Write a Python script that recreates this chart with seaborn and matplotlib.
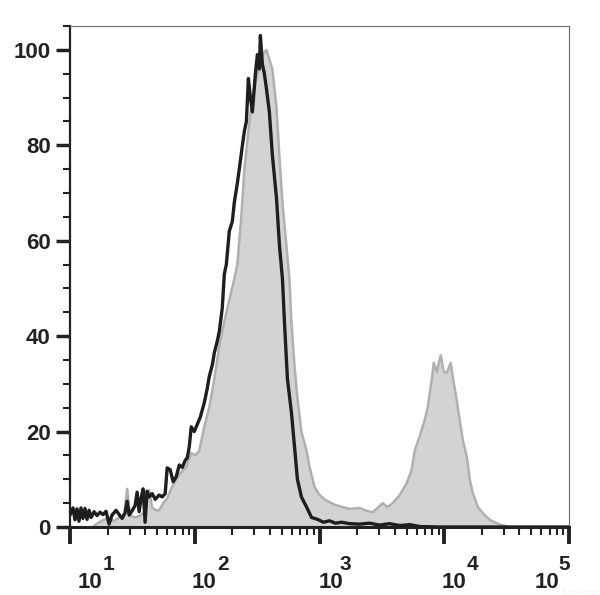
"""Flow cytometry overlay histogram: stained sample (grey fill) vs. control (black line)."""

import matplotlib

matplotlib.use("Agg")
import matplotlib.pyplot as plt  # noqa: E402
import numpy as np  # noqa: E402
import pandas as pd  # noqa: E402
import seaborn as sns  # noqa: E402
from matplotlib.ticker import FixedLocator, LogLocator, MultipleLocator, NullFormatter  # noqa: E402

# ---------------------------------------------------------------------------
# Data (log10 of fluorescence, % of max)
# ---------------------------------------------------------------------------

control_log = [
    1.000, 1.024, 1.040, 1.056, 1.072, 1.088, 1.104, 1.120, 1.137, 1.153,
    1.169, 1.193, 1.217, 1.241, 1.265, 1.289, 1.313, 1.337, 1.369, 1.394,
    1.418, 1.442, 1.458, 1.474, 1.498, 1.522, 1.538, 1.554, 1.570, 1.586,
    1.602, 1.618, 1.635, 1.659, 1.683, 1.715, 1.739, 1.763, 1.779, 1.803,
    1.827, 1.851, 1.876, 1.900, 1.924, 1.940, 1.956, 1.972, 1.996, 2.020,
    2.044, 2.076, 2.100, 2.116, 2.141, 2.157, 2.181, 2.197, 2.221, 2.237,
    2.253, 2.277, 2.301, 2.317, 2.341, 2.357, 2.382, 2.398, 2.414, 2.430,
    2.446, 2.462, 2.486, 2.502, 2.518, 2.526, 2.542, 2.558, 2.574, 2.598,
    2.622, 2.655, 2.679, 2.703, 2.719, 2.743, 2.775, 2.799, 2.823, 2.855,
    2.896, 2.936, 2.984, 3.032, 3.080, 3.128, 3.177, 3.241, 3.321, 3.402,
    3.482, 3.562, 3.643, 3.723, 3.803, 3.964, 5.000,
]
control_pct = [
    2.5, 4.0, 1.5, 3.8, 1.2, 4.0, 1.8, 3.9, 1.6, 3.5,
    2.0, 3.2, 2.4, 3.1, 2.6, 3.3, 0.6, 2.5, 3.5, 2.6,
    1.8, 3.0, 5.4, 2.5, 3.4, 4.5, 7.3, 3.2, 6.0, 8.0,
    1.0, 7.5, 6.3, 7.0, 5.8, 6.7, 6.3, 7.0, 12.4, 12.0,
    9.5, 10.5, 13.0, 12.5, 14.0, 14.5, 16.8, 21.0, 20.0, 21.5,
    23.0, 26.0, 29.0, 31.5, 34.0, 36.5, 39.0, 41.0, 46.0, 53.0,
    55.0, 62.0, 64.0, 68.0, 72.0, 75.0, 80.0, 83.0, 85.0, 94.0,
    90.0, 87.0, 95.0, 99.0, 96.0, 103.0, 97.0, 95.0, 92.0, 87.0,
    78.0, 69.0, 59.0, 52.0, 43.0, 31.0, 24.0, 17.0, 10.0, 6.3,
    4.2, 2.0, 1.6, 1.0, 1.3, 0.8, 1.0, 0.7, 0.6, 0.8,
    0.4, 0.7, 0.3, 0.5, 0.1, 0.0, 0.0,
]

sample_log = [
    1.193, 1.233, 1.273, 1.313, 1.353, 1.394, 1.434, 1.458, 1.482, 1.514,
    1.554, 1.594, 1.635, 1.659, 1.691, 1.715, 1.747, 1.779, 1.811, 1.851,
    1.876, 1.908, 1.932, 1.972, 2.004, 2.036, 2.076, 2.116, 2.157, 2.197,
    2.237, 2.277, 2.317, 2.341, 2.373, 2.398, 2.430, 2.462, 2.502, 2.542,
    2.574, 2.598, 2.622, 2.655, 2.679, 2.703, 2.735, 2.759, 2.775, 2.799,
    2.823, 2.855, 2.896, 2.920, 2.960, 3.000, 3.040, 3.080, 3.128, 3.185,
    3.241, 3.321, 3.378, 3.426, 3.466, 3.506, 3.546, 3.586, 3.643, 3.699,
    3.739, 3.763, 3.803, 3.843, 3.867, 3.900, 3.916, 3.940, 3.972, 3.996,
    4.020, 4.052, 4.068, 4.100, 4.124, 4.149, 4.181, 4.205, 4.229, 4.269,
    4.309, 4.365, 4.446, 4.526,
]
sample_pct = [
    0.3, 1.0, 1.5, 1.9, 1.2, 2.0, 2.5, 8.0, 2.5, 2.0,
    2.3, 3.0, 7.7, 4.0, 3.5, 3.5, 5.0, 6.0, 8.0, 10.0,
    11.0, 12.0, 12.6, 15.5, 15.0, 16.0, 21.0, 25.0, 31.0, 38.0,
    43.0, 47.6, 52.0, 55.0, 65.0, 75.0, 83.0, 90.0, 95.0, 99.0,
    100.0, 98.0, 96.0, 88.0, 77.5, 68.0, 59.0, 52.0, 43.0, 34.0,
    27.0, 20.0, 16.0, 12.6, 8.4, 6.7, 5.8, 5.2, 4.6, 4.2,
    3.8, 4.0, 3.4, 3.1, 4.0, 5.0, 4.2, 5.0, 6.7, 9.2,
    12.0, 16.0, 19.0, 22.4, 25.0, 31.0, 34.4, 32.5, 36.0, 32.5,
    32.3, 34.4, 31.5, 26.6, 22.4, 18.2, 14.7, 9.9, 7.1, 4.2,
    2.9, 1.5, 0.5, 0.0,
]

decades = [1, 2, 3, 4, 5]
# label nudges in pixels (base "10" centre, exponent left edge), as drawn in the original
base_dx = [20, 9, 11, 10, -22]
exp_dx = [33, 23, 20, 22, -11]
y_major = [0, 20, 40, 60, 80, 100]

# ---------------------------------------------------------------------------
# Plot
# ---------------------------------------------------------------------------

sns.set_style("ticks")
plt.rcParams["font.family"] = ["Liberation Sans", "DejaVu Sans"]

ctrl = pd.DataFrame({"fl": np.power(10.0, control_log), "pct": control_pct})
samp = pd.DataFrame({"fl": np.power(10.0, sample_log), "pct": sample_pct})

fig = plt.figure(figsize=(6.0, 5.95), dpi=100)
ax = fig.add_axes([70 / 600, 68 / 595, 499 / 600, 501 / 595])

ax.fill_between(samp["fl"], 0, samp["pct"], color="#d3d3d3", lw=0, zorder=1)
sns.lineplot(data=samp, x="fl", y="pct", ax=ax, color="#b0b0b0", lw=1.8,
             estimator=None, sort=False, zorder=2)
sns.lineplot(data=ctrl, x="fl", y="pct", ax=ax, color="#1e1e1e", lw=2.4,
             estimator=None, sort=False, zorder=3)

ax.set_xscale("log")
ax.set_xlim(10 ** decades[0], 10 ** decades[-1])
ax.set_ylim(0, 105)
ax.set_xlabel(""); ax.set_ylabel("")

ax.xaxis.set_major_locator(FixedLocator([10.0 ** d for d in decades]))
ax.xaxis.set_minor_locator(LogLocator(base=10, subs=np.arange(2, 10)))
ax.xaxis.set_major_formatter(NullFormatter())
ax.xaxis.set_minor_formatter(NullFormatter())
ax.yaxis.set_major_locator(FixedLocator(y_major))
ax.yaxis.set_minor_locator(MultipleLocator(5))

ax.tick_params(axis="x", which="major", length=12, width=2.8, color="#222222")
ax.tick_params(axis="x", which="minor", length=6, width=1.5, color="#222222")
ax.tick_params(axis="y", which="major", length=10, width=2.5, color="#222222",
               labelsize=16, labelcolor="#222222", pad=4)
ax.tick_params(axis="y", which="minor", length=5, width=1.5, color="#222222")
for lbl in ax.get_yticklabels():
    lbl.set_fontweight("bold")

for side in ("top", "right"):
    ax.spines[side].set_color("#6a6a6a"); ax.spines[side].set_linewidth(0.8)
ax.spines["left"].set_color("#222222"); ax.spines["left"].set_linewidth(1.6)
ax.spines["bottom"].set_color("#222222"); ax.spines["bottom"].set_linewidth(2.2)

for d, bdx, edx in zip(decades, base_dx, exp_dx):
    ax.annotate("10", xy=(10.0 ** d, 0), xycoords=("data", "axes fraction"),
                xytext=(bdx, -56), textcoords="offset pixels",
                ha="center", va="center", fontsize=16, fontweight="bold", color="#222222")
    ax.annotate(str(d), xy=(10.0 ** d, 0), xycoords=("data", "axes fraction"),
                xytext=(edx, -37), textcoords="offset pixels",
                ha="left", va="center", fontsize=15, fontweight="bold", color="#222222")

fig.text(599 / 600, 1 - 592 / 595, "Elabscience", ha="right", va="center",
         fontsize=5, color="#eeeeee")

fig.savefig("out.png", dpi=100)
plt.close(fig)
